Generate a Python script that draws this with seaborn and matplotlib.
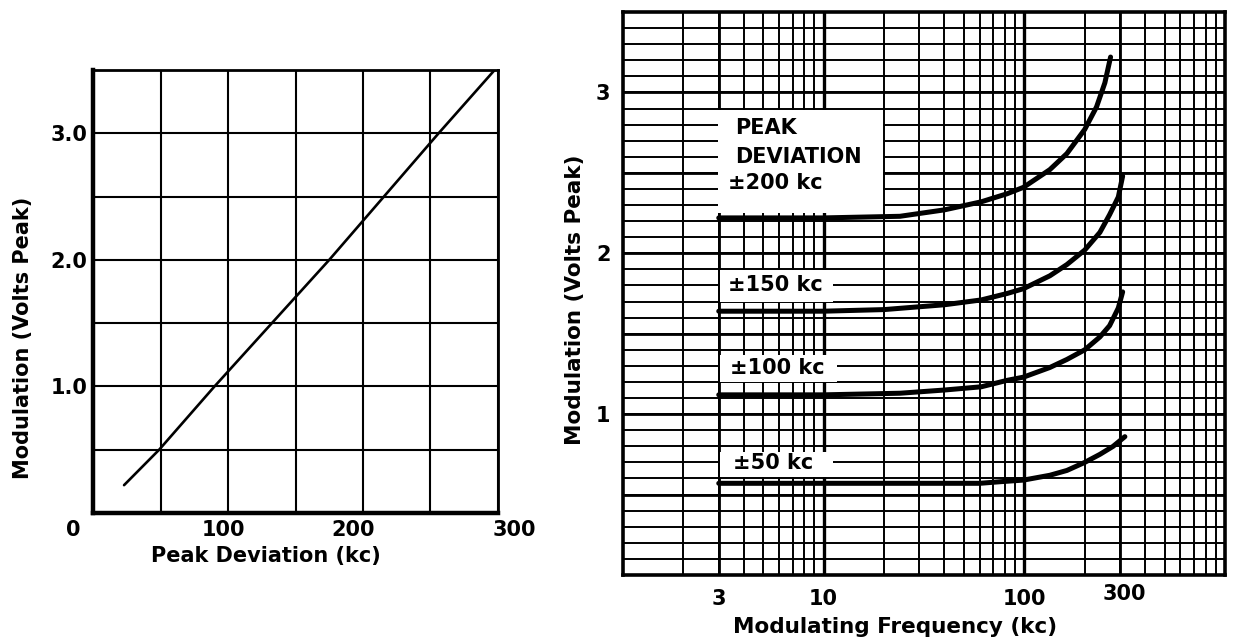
import numpy as np
import pandas as pd
import matplotlib
matplotlib.use("Agg")
import matplotlib.pyplot as plt
import matplotlib.transforms as mtransforms
import seaborn as sns
from matplotlib.patches import Rectangle

# ---------------- data ----------------
# Left chart: modulation voltage vs peak deviation
dev_kc = [23, 49, 90, 175, 256, 300]
mod_v = [0.22, 0.50, 1.00, 2.00, 3.00, 3.53]

# Right chart: modulation voltage vs modulating frequency, per peak deviation
series_labels = ["±200 kc", "±150 kc", "±100 kc", "±50 kc"]
freq_200 = [3, 10, 24, 40, 61, 82, 99, 134, 163, 200, 229, 252, 269]
volt_200 = [2.22, 2.22, 2.23, 2.27, 2.32, 2.37, 2.41, 2.52, 2.62, 2.77, 2.91, 3.06, 3.22]
freq_150 = [3, 10, 20, 40, 61, 82, 99, 134, 163, 200, 238, 266, 294, 309]
volt_150 = [1.64, 1.64, 1.65, 1.68, 1.71, 1.75, 1.78, 1.86, 1.93, 2.02, 2.13, 2.24, 2.35, 2.48]
freq_100 = [3, 10, 24, 40, 61, 82, 99, 134, 163, 200, 238, 266, 294, 309]
volt_100 = [1.12, 1.12, 1.13, 1.15, 1.17, 1.21, 1.23, 1.29, 1.34, 1.40, 1.48, 1.55, 1.66, 1.76]
freq_50 = [3, 10, 30, 60, 76, 99, 134, 163, 200, 238, 277, 317]
volt_50 = [0.57, 0.57, 0.57, 0.57, 0.58, 0.59, 0.62, 0.65, 0.70, 0.75, 0.80, 0.86]

left_xticks = [0, 100, 200, 300]
left_yticks = [1.0, 2.0, 3.0]
left_yticklabels = ["1.0", "2.0", "3.0"]
right_xticks = [3, 10, 100, 300]
right_xticklabels = ["3", "10", "100", "300"]
right_yticks = [1, 2, 3]
right_yticklabels = ["1", "2", "3"]

# ---------------- style ----------------
sns.set_theme(style="white")
plt.rcParams['font.family'] = ['DejaVu Sans']
plt.rcParams['font.weight'] = 'bold'
plt.rcParams['text.color'] = 'black'
plt.rcParams['axes.labelcolor'] = 'black'
plt.rcParams['xtick.color'] = 'black'
plt.rcParams['ytick.color'] = 'black'

fig = plt.figure(figsize=(12.35, 6.42), dpi=100)
W, H = 1235, 642

def ax_rect(l, t, r, b):
    return [l / W, 1 - b / H, (r - l) / W, (b - t) / H]

def shift(label, dx_px, dy_px=0):
    label.set_transform(label.get_transform() +
                        mtransforms.ScaledTranslation(dx_px / 100, dy_px / 100,
                                                      fig.dpi_scale_trans))

# ---------------- left chart ----------------
axL = fig.add_axes(ax_rect(93, 70, 498, 513))
sns.lineplot(x=dev_kc, y=mod_v, ax=axL, color="black", lw=1.9, zorder=3)
axL.set_xlim(0, 300)
axL.set_ylim(0, 3.5)
axL.set_xticks(left_xticks)
axL.set_xticklabels([str(v) for v in left_xticks])
axL.set_xticks([50, 150, 250], minor=True)
axL.set_yticks(left_yticks)
axL.set_yticklabels(left_yticklabels)
axL.set_yticks([0.5, 1.5, 2.5], minor=True)
axL.set_axisbelow(True)
axL.grid(which="both", color="black", lw=1.5)
axL.tick_params(which="both", length=0, labelsize=15)
axL.tick_params(axis="x", pad=5)
axL.tick_params(axis="y", pad=4)
for lab in axL.get_xticklabels() + axL.get_yticklabels():
    lab.set_fontweight("bold")
for lab, dx in zip(axL.get_xticklabels(), [-20, -5, -10, 16]):
    shift(lab, dx)
for side, lw in [("left", 3.2), ("bottom", 3.2), ("top", 2.0), ("right", 2.0)]:
    axL.spines[side].set_visible(True)
    axL.spines[side].set_color("black")
    axL.spines[side].set_linewidth(lw)
axL.set_xlabel("")
axL.set_ylabel("")
fig.text(266 / W, 1 - 556 / H, "Peak Deviation (kc)", ha="center", va="center",
         fontsize=15, fontweight="bold")
fig.text(23 / W, 1 - 338 / H, "Modulation (Volts Peak)", ha="center", va="center",
         rotation=90, fontsize=15, fontweight="bold")

# ---------------- right chart ----------------
axR = fig.add_axes(ax_rect(623, 12, 1225, 575))
df = pd.concat([
    pd.DataFrame({"freq": f, "volt": v, "series": s})
    for f, v, s in zip([freq_200, freq_150, freq_100, freq_50],
                       [volt_200, volt_150, volt_100, volt_50],
                       series_labels)
], ignore_index=True)
sns.lineplot(data=df, x="freq", y="volt", units="series", estimator=None,
             color="black", lw=3.6, sort=False, ax=axR, zorder=3)
axR.set_xscale("log")
axR.set_xlim(1, 1000)
axR.set_ylim(0, 3.5)
axR.xaxis.remove_overlapping_locs = False
axR.yaxis.remove_overlapping_locs = False
axR.set_xticks(right_xticks)
axR.set_xticklabels(right_xticklabels)
minor_x = [n * 10 ** k for k in range(3) for n in range(2, 10)]
axR.set_xticks(minor_x, minor=True)
axR.set_xticklabels([], minor=True)
axR.set_yticks(right_yticks)
axR.set_yticklabels(right_yticklabels)
axR.set_yticks(np.round(np.arange(0.1, 3.5, 0.1), 2), minor=True)
axR.set_axisbelow(True)
axR.grid(which="minor", color="black", lw=1.4)
axR.grid(which="major", color="black", lw=2.0)
for xv in [10, 100]:
    axR.axvline(xv, color="black", lw=2.4, zorder=0.6)
for yv in [0.5, 1.5, 2.5]:
    axR.axhline(yv, color="black", lw=2.0, zorder=0.6)
axR.tick_params(which="both", length=0, labelsize=15)
axR.tick_params(axis="x", pad=10)
axR.tick_params(axis="y", pad=9)
for lab in axR.get_xticklabels() + axR.get_yticklabels():
    lab.set_fontweight("bold")
shift(axR.get_xticklabels()[3], 4, 5)
for side in ["left", "bottom", "top", "right"]:
    axR.spines[side].set_visible(True)
    axR.spines[side].set_color("black")
    axR.spines[side].set_linewidth(2.6)
axR.set_xlabel("")
axR.set_ylabel("")

# white label boxes (axes fraction) and annotation text
boxes = [(0.158, 0.643, 0.432, 0.826),
         (0.161, 0.485, 0.349, 0.542),
         (0.161, 0.343, 0.355, 0.391),
         (0.161, 0.174, 0.349, 0.218)]
for x0, y0, x1, y1 in boxes:
    axR.add_patch(Rectangle((x0, y0), x1 - x0, y1 - y0, transform=axR.transAxes,
                            facecolor="white", edgecolor="none", zorder=1.5))
txt_kw = dict(transform=axR.transAxes, fontsize=15, fontweight="bold",
              va="center", ha="left", zorder=4)
axR.text(0.186, 0.794, "PEAK", **txt_kw)
axR.text(0.186, 0.742, "DEVIATION", **txt_kw)
axR.text(0.174, 0.696, series_labels[0], **txt_kw)
axR.text(0.174, 0.515, series_labels[1], **txt_kw)
axR.text(0.178, 0.368, series_labels[2], **txt_kw)
axR.text(0.183, 0.199, series_labels[3], **txt_kw)

fig.text(895 / W, 1 - 627 / H, "Modulating Frequency (kc)", ha="center", va="center",
         fontsize=15.5, fontweight="bold")
fig.text(575 / W, 1 - 300 / H, "Modulation (Volts Peak)", ha="center", va="center",
         rotation=90, fontsize=15.5, fontweight="bold")

fig.savefig("out.png", dpi=100, facecolor="white")
